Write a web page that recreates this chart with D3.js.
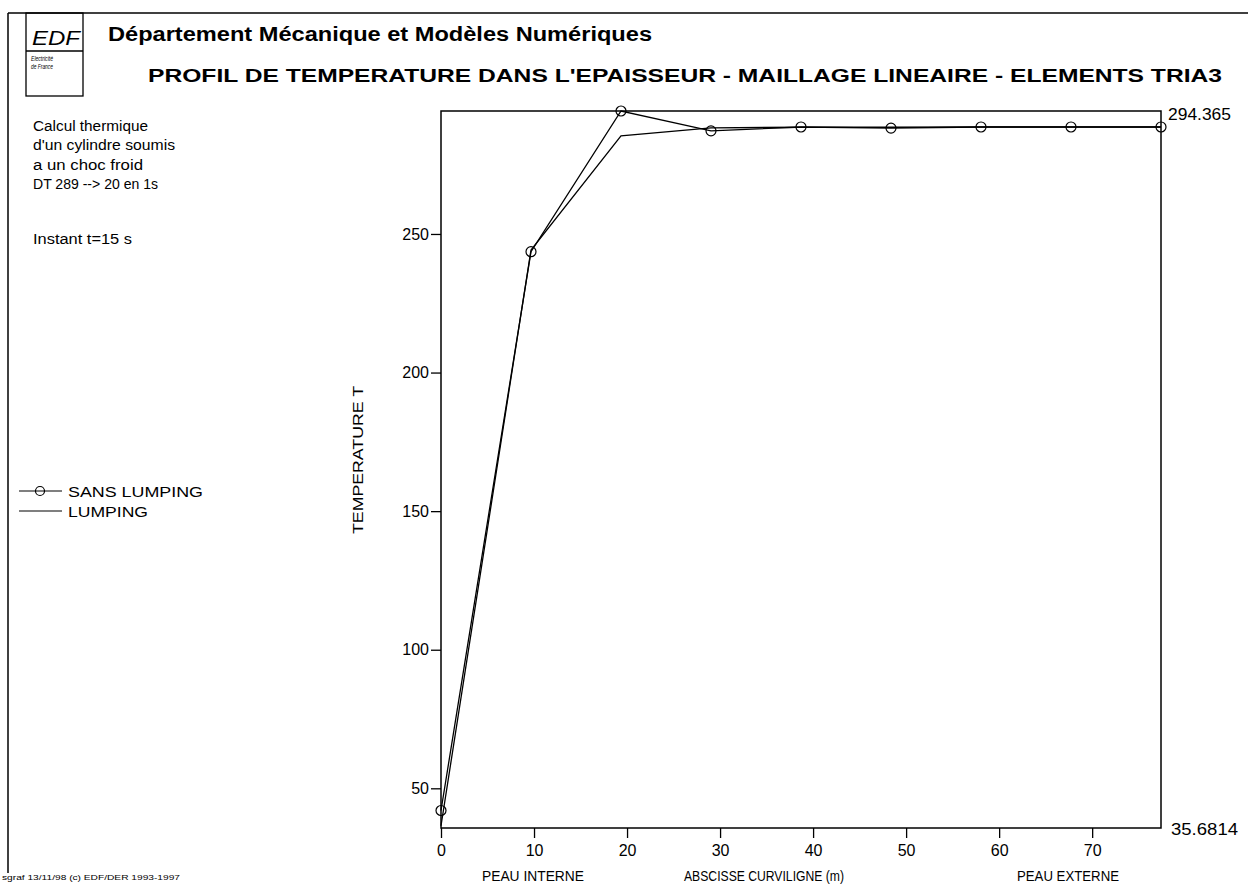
<!DOCTYPE html>
<html><head><meta charset="utf-8">
<script src="https://cdn.jsdelivr.net/npm/d3@7"></script>
<style>body{margin:0;background:#fff}svg{display:block;font-family:"Liberation Sans",Arial,sans-serif}</style>
</head><body>
<script>
const xValues = [0, 9.675, 19.35, 29.025, 38.7, 48.375, 58.05, 67.725, 77.4];
const sansLumping = [42, 243.6, 294.365, 287.2, 288.6, 288.2, 288.6, 288.6, 288.6];
const lumping = [36.5, 244.2, 285.4, 288.3, 288.5, 288.5, 288.6, 288.6, 288.6];
const yTicks = [50, 100, 150, 200, 250];
const xTicks = [0, 10, 20, 30, 40, 50, 60, 70];
const yMin = 35.6814, yMax = 294.365;
const infoLines = ["Calcul thermique", "d'un cylindre soumis", "a un choc froid", "DT 289 --> 20 en 1s"];
const seriesNames = ["SANS LUMPING", "LUMPING"];

const W = 1248, H = 885;
const svg = d3.select("body").append("svg").attr("width", W).attr("height", H);
const L = 441, R = 1161, T = 111, B = 828;
const x = d3.scaleLinear().domain([0, 77.4]).range([L, R]);
const y = d3.scaleLinear().domain([yMin, yMax]).range([B, T]);

function txt(xp, yp, size, s, width, opts = {}) {
  const t = svg.append("text").attr("x", xp).attr("y", yp).attr("font-size", size).text(s);
  if (opts.bold) t.attr("font-weight", "bold");
  if (opts.italic) t.attr("font-style", "italic");
  if (opts.anchor) t.attr("text-anchor", opts.anchor);
  if (width) t.attr("textLength", width).attr("lengthAdjust", "spacingAndGlyphs");
  return t;
}

// frame
svg.append("line").attr("x1", 8).attr("x2", 8).attr("y1", 13).attr("y2", 873).attr("stroke", "#000").attr("stroke-width", 1.5);
svg.append("line").attr("x1", 8).attr("x2", W).attr("y1", 13).attr("y2", 13).attr("stroke", "#000").attr("stroke-width", 1.5);
// logo
svg.append("rect").attr("x", 26).attr("y", 13).attr("width", 57).attr("height", 83).attr("fill", "none").attr("stroke", "#000").attr("stroke-width", 1.3);
svg.append("line").attr("x1", 26).attr("x2", 83).attr("y1", 51).attr("y2", 51).attr("stroke", "#000").attr("stroke-width", 1.3);
txt(32, 45, 21, "EDF", 48, {italic: true});
txt(31, 61, 6.5, "Electricité", 22, {italic: true});
txt(31, 69, 6.5, "de France", 22, {italic: true});

// titles
txt(108, 41, 20, "Département Mécanique et Modèles Numériques", 544, {bold: true});
txt(148, 82, 19, "PROFIL DE TEMPERATURE DANS L'EPAISSEUR - MAILLAGE LINEAIRE - ELEMENTS TRIA3", 1074, {bold: true});

// info text
const infoW = [115, 142, 110, 125];
infoLines.forEach((t, i) => txt(33, 131 + i * 19.3, 14, t, infoW[i]));
txt(33, 244, 14, "Instant t=15 s", 99);

// legend
svg.append("line").attr("x1", 19).attr("x2", 62).attr("y1", 491).attr("y2", 491).attr("stroke", "#000").attr("stroke-width", 1.2);
svg.append("circle").attr("cx", 40).attr("cy", 491).attr("r", 4.5).attr("fill", "none").attr("stroke", "#000").attr("stroke-width", 1.2);
txt(68, 497, 15, seriesNames[0], 135);
svg.append("line").attr("x1", 19).attr("x2", 62).attr("y1", 511).attr("y2", 511).attr("stroke", "#000").attr("stroke-width", 1.2);
txt(68, 517, 15, seriesNames[1], 80);

// plot box
svg.append("rect").attr("x", L).attr("y", T).attr("width", R - L).attr("height", B - T).attr("fill", "none").attr("stroke", "#000").attr("stroke-width", 1.5);

// axes
const yAxis = d3.axisLeft(y).tickValues(yTicks).tickSize(10).tickPadding(2).tickFormat(d3.format("d"));
const ga = svg.append("g").attr("transform", `translate(${L},0)`).call(yAxis);
ga.select(".domain").remove();
ga.selectAll("line").attr("stroke-width", 1.3);
ga.selectAll("text").attr("font-size", 16).attr("font-family", "Liberation Sans, Arial, sans-serif").attr("fill", "#000");
const xAxis = d3.axisBottom(x).tickValues(xTicks).tickSize(10).tickPadding(7).tickFormat(d3.format("d"));
const gx = svg.append("g").attr("transform", `translate(0,${B})`).call(xAxis);
gx.select(".domain").remove();
gx.selectAll("line").attr("stroke-width", 1.3);
gx.selectAll("text").attr("font-size", 16).attr("font-family", "Liberation Sans, Arial, sans-serif").attr("fill", "#000");

// labels
svg.append("text").attr("transform", "translate(363,460) rotate(-90)").attr("text-anchor", "middle").attr("font-size", 15)
  .attr("textLength", 148).attr("lengthAdjust", "spacingAndGlyphs").text("TEMPERATURE T");
txt(533, 881, 15, "PEAU INTERNE", 102, {anchor: "middle"});
txt(764, 881, 15, "ABSCISSE CURVILIGNE (m)", 160, {anchor: "middle"});
txt(1068, 881, 15, "PEAU EXTERNE", 102, {anchor: "middle"});
txt(1168, 120, 17, d3.format(".3f")(yMax), 63);
txt(1171, 835, 17, String(yMin), 67);
txt(2, 880, 7, "sgraf 13/11/98 (c) EDF/DER 1993-1997", 178);

// series
const line = d3.line().x((d, i) => x(xValues[i])).y(d => y(d));
svg.append("path").datum(lumping).attr("d", line).attr("fill", "none").attr("stroke", "#000").attr("stroke-width", 1.3);
svg.append("path").datum(sansLumping).attr("d", line).attr("fill", "none").attr("stroke", "#000").attr("stroke-width", 1.3);
svg.selectAll("circle.pt").data(sansLumping).enter().append("circle").attr("class", "pt")
  .attr("cx", (d, i) => x(xValues[i])).attr("cy", d => y(d)).attr("r", 5)
  .attr("fill", "none").attr("stroke", "#000").attr("stroke-width", 1.2);
</script>
</body></html>
